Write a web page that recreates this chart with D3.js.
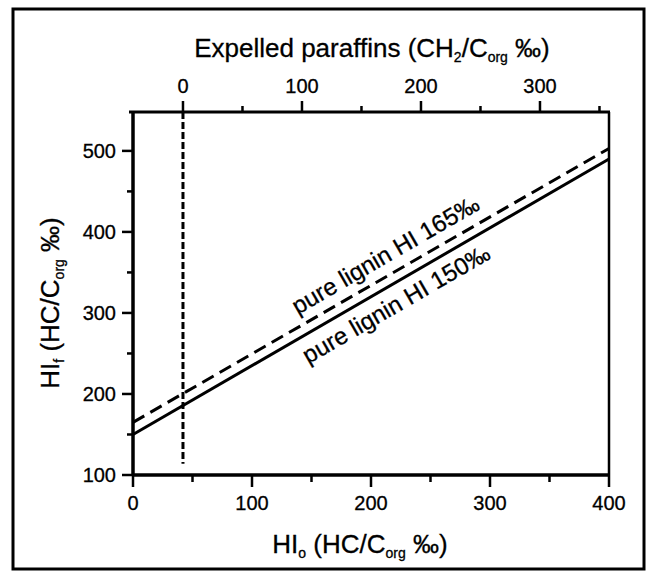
<html>
<head>
	<meta content="text/html;charset=utf-8" http-equiv="Content-Type">
	<style>
		body {
			margin: 0;
			background: white;
			font-family: "Liberation Sans", Arial, Helvetica, sans-serif;
		}
		text {
			stroke: #000;
			stroke-width: 0.3px;
		}
	</style>
	<script src="https://cdn.jsdelivr.net/npm/d3@7"></script>
</head>
<body>
	<svg id="Chart"></svg>
</body>
<script>
	// HI0 axis (bottom) and HI axis (left)
	let hi0Ticks = [0, 50, 100, 150, 200, 250, 300, 350, 400]
	let hi0Labels = [0, 100, 200, 300, 400]
	let hiTicks = [100, 150, 200, 250, 300, 350, 400, 450, 500]
	let hiLabels = [100, 200, 300, 400, 500]
	// expelled paraffins axis (top), shifted against HI0
	let paraffinTicks = [0, 50, 100, 150, 200, 250, 300, 350]
	let paraffinLabels = [0, 100, 200, 300]
	let paraffinOffset = 42   // HI0 value where expelled paraffins = 0

	// pure lignin lines [HI0, HI]
	let lignin150 = [[0, 150], [400, 490]]
	let lignin165 = [[0, 165], [400, 503]]

	function getConfig() {
		let width = 651
		let height = 572
		let margin = { top: 112, bottom: 97, left: 133, right: 42 }
		let container = d3.select("#Chart")
			.attr("width", width)
			.attr("height", height)
		return { width, height, margin, container }
	}

	function getScales(config) {
		let { width, height, margin } = config
		let x = d3.scaleLinear().domain([0, 400]).range([margin.left, width - margin.right])
		let y = d3.scaleLinear().domain([100, 548]).range([height - margin.bottom, margin.top])
		let xTop = d3.scaleLinear()
			.domain([0 - paraffinOffset, 400 - paraffinOffset])
			.range([margin.left, width - margin.right])
		return { x, y, xTop }
	}

	function drawFrame(config) {
		config.container.append("rect")
			.attr("x", 13).attr("y", 9)
			.attr("width", 631).attr("height", 560)
			.attr("fill", "none")
			.attr("stroke", "#000")
			.attr("stroke-width", 3)
	}

	function drawAxes(scales, config) {
		let { x, y, xTop } = scales
		let { container, width, height, margin } = config
		let bottomY = height - margin.bottom
		let g = container.append("g")
			.attr("stroke", "#000")

		// plot box: bottom, left, right, top
		g.append("line").attr("x1", x(0)).attr("x2", x(400) + 1)
			.attr("y1", bottomY).attr("y2", bottomY).attr("stroke-width", 3.5)
		g.append("line").attr("x1", x(0)).attr("x2", x(0))
			.attr("y1", margin.top - 1).attr("y2", bottomY).attr("stroke-width", 3.5)
		g.append("line").attr("x1", x(400)).attr("x2", x(400))
			.attr("y1", margin.top).attr("y2", bottomY).attr("stroke-width", 2.5)
		g.append("line").attr("x1", x(0) - 4).attr("x2", x(400) + 1)
			.attr("y1", margin.top).attr("y2", margin.top).attr("stroke-width", 3)

		// bottom ticks
		g.selectAll(".tb").data(hi0Ticks).enter().append("line")
			.attr("x1", d => x(d)).attr("x2", d => x(d))
			.attr("y1", bottomY)
			.attr("y2", d => bottomY + (hi0Labels.includes(d) ? 12 : 7))
			.attr("stroke-width", 2.5)
		// left ticks
		g.selectAll(".tl").data(hiTicks).enter().append("line")
			.attr("y1", d => y(d)).attr("y2", d => y(d))
			.attr("x1", x(0))
			.attr("x2", d => x(0) - (hiLabels.includes(d) ? 11 : 6))
			.attr("stroke-width", 2.5)
		// top ticks
		g.selectAll(".tt").data(paraffinTicks).enter().append("line")
			.attr("x1", d => xTop(d)).attr("x2", d => xTop(d))
			.attr("y1", margin.top)
			.attr("y2", d => margin.top - (paraffinLabels.includes(d) ? 11 : 6))
			.attr("stroke-width", 2.5)

		let labels = container.append("g")
			.attr("font-size", 20)
			.attr("fill", "#000")
		labels.selectAll(".lb").data(hi0Labels).enter().append("text")
			.attr("x", d => x(d)).attr("y", 510)
			.attr("text-anchor", "middle")
			.text(d => d)
		labels.selectAll(".ll").data(hiLabels).enter().append("text")
			.attr("x", x(0) - 17).attr("y", d => y(d) + 7)
			.attr("text-anchor", "end")
			.text(d => d)
		labels.selectAll(".lt").data(paraffinLabels).enter().append("text")
			.attr("x", d => xTop(d)).attr("y", 93)
			.attr("text-anchor", "middle")
			.text(d => d)
	}

	function drawTitles(config) {
		let { container } = config
		let top = container.append("text")
			.attr("x", 372).attr("y", 57)
			.attr("text-anchor", "middle")
			.attr("font-size", 26)
		top.append("tspan").text("Expelled paraffins (CH")
		top.append("tspan").attr("font-size", 14).attr("dy", 5).text("2")
		top.append("tspan").attr("dy", -5).text("/C")
		top.append("tspan").attr("font-size", 14).attr("dy", 5).text("org")
		top.append("tspan").attr("dy", -5).text(" ‰)")

		let bottom = container.append("text")
			.attr("x", 360).attr("y", 553)
			.attr("text-anchor", "middle")
			.attr("font-size", 26)
		bottom.append("tspan").text("HI")
		bottom.append("tspan").attr("font-size", 14).attr("dy", 5).text("o")
		bottom.append("tspan").attr("dy", -5).text(" (HC/C")
		bottom.append("tspan").attr("font-size", 14).attr("dy", 5).text("org")
		bottom.append("tspan").attr("dy", -5).text(" ‰)")

		let left = container.append("text")
			.attr("transform", "translate(59,303) rotate(-90)")
			.attr("text-anchor", "middle")
			.attr("font-size", 26)
		left.append("tspan").text("HI")
		left.append("tspan").attr("font-size", 14).attr("dy", 5).text("f")
		left.append("tspan").attr("dy", -5).text(" (HC/C")
		left.append("tspan").attr("font-size", 14).attr("dy", 5).text("org")
		left.append("tspan").attr("dy", -5).text(" ‰)")
	}

	function drawLines(scales, config) {
		let { x, y } = scales
		let { container, margin } = config
		let line = d3.line().x(d => x(d[0])).y(d => y(d[1]))

		container.append("path")
			.attr("d", line(lignin150))
			.attr("fill", "none").attr("stroke", "#000")
			.attr("stroke-width", 3)
		container.append("path")
			.attr("d", line(lignin165))
			.attr("fill", "none").attr("stroke", "#000")
			.attr("stroke-width", 3)
			.attr("stroke-dasharray", "13,7")

		// expelled paraffins = 0
		container.append("line")
			.attr("x1", x(paraffinOffset)).attr("x2", x(paraffinOffset))
			.attr("y1", margin.top).attr("y2", y(114))
			.attr("stroke", "#000").attr("stroke-width", 3)
			.attr("stroke-dasharray", "7,3")

		// labels along the lines
		let angle = Math.atan2(y(lignin150[1][1]) - y(lignin150[0][1]),
			x(lignin150[1][0]) - x(lignin150[0][0])) * 180 / Math.PI
		let along = (pts, v) => [x(v), y(pts[0][1] + (pts[1][1] - pts[0][1]) * v / 400)]
		let p165 = along(lignin165, 143)
		let p150 = along(lignin150, 136)
		container.append("text")
			.attr("transform", `translate(${p165[0]},${p165[1]}) rotate(${angle})`)
			.attr("y", -11)
			.attr("font-size", 24)
			.text("pure lignin HI 165‰")
		container.append("text")
			.attr("transform", `translate(${p150[0]},${p150[1]}) rotate(${angle})`)
			.attr("y", 27)
			.attr("font-size", 24)
			.text("pure lignin HI 150‰")
	}

	function showChart() {
		let config = getConfig()
		let scales = getScales(config)
		drawFrame(config)
		drawLines(scales, config)
		drawAxes(scales, config)
		drawTitles(config)
	}

	showChart()
</script>
</html>
